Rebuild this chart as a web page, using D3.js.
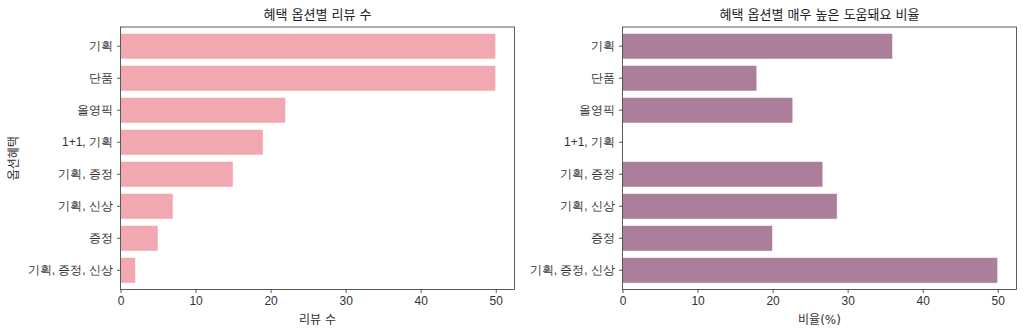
<!DOCTYPE html>
<html>
<head>
<meta charset="utf-8">
<script src="https://cdn.jsdelivr.net/npm/d3@7"></script>
<style>
  body { margin: 0; background: #fff; }
  svg { font-family: "DejaVu Sans", "Noto Sans CJK KR", sans-serif; }
</style>
</head>
<body>
<svg id="chart" width="1024" height="336"></svg>
<script>
const options = ['기획', '단품', '올영픽', '1+1, 기획', '기획, 증정', '기획, 신상', '증정', '기획, 증정, 신상']
const reviewCounts = [50, 50, 22, 19, 15, 7, 5, 2]
const helpfulRatio = [36, 17.9, 22.7, 0, 26.7, 28.6, 20, 50]
const xTicks = [0, 10, 20, 30, 40, 50]

const svg = d3.select('#chart')

function drawPanel(cfg){
    const g = svg.append('g').attr('transform', `translate(${cfg.left},${cfg.top})`)
    const w = cfg.width, h = cfg.height

    const x = d3.scaleLinear().domain([0, 52.5]).range([0, w])
    const y = d3.scaleBand().domain(options).range([0, h]).padding(0.2)

    g.selectAll('rect.bar').data(cfg.values).enter()
        .append('rect')
        .attr('class', 'bar')
        .attr('x', 0)
        .attr('y', (d, i) => y(options[i]))
        .attr('width', d => x(d))
        .attr('height', y.bandwidth())
        .attr('fill', cfg.color)
        .attr('stroke', d => d > 0 ? '#fff' : 'none')
        .attr('stroke-width', 0.6)

    // axes
    const xAxis = d3.axisBottom(x).tickValues(xTicks).tickSize(3.5).tickPadding(3).tickSizeOuter(0)
    const yAxis = d3.axisLeft(y).tickSize(3.5).tickPadding(4).tickSizeOuter(0)

    const xg = g.append('g').attr('transform', `translate(0,${h})`).call(xAxis)
    const yg = g.append('g').call(yAxis)
    for (const a of [xg, yg]){
        a.select('.domain').remove()
        a.selectAll('line').attr('stroke', '#333').attr('stroke-width', 0.8)
        a.selectAll('text').attr('fill', '#333').style('font-size', '12px')
    }

    // frame
    g.append('rect')
        .attr('x', 0).attr('y', 0).attr('width', w).attr('height', h)
        .attr('fill', 'none').attr('stroke', '#333').attr('stroke-width', 0.8)

    g.append('text')
        .attr('x', w / 2).attr('y', -8)
        .attr('text-anchor', 'middle')
        .attr('fill', '#222')
        .style('font-size', '13px')
        .text(cfg.title)

    g.append('text')
        .attr('x', w / 2).attr('y', h + 34)
        .attr('text-anchor', 'middle')
        .attr('fill', '#333')
        .style('font-size', '12px')
        .text(cfg.xlabel)

    if (cfg.ylabel){
        g.append('text')
            .attr('transform', `translate(${-cfg.left + 18},${h / 2}) rotate(-90)`)
            .attr('text-anchor', 'middle')
            .attr('fill', '#333')
            .style('font-size', '12px')
            .text(cfg.ylabel)
    }
}

drawPanel({left: 120.5, top: 27, width: 394, height: 262.5, values: reviewCounts,
    color: '#f2a8b0', title: '혜택 옵션별 리뷰 수', xlabel: '리뷰 수', ylabel: '옵션혜택'})
drawPanel({left: 622.5, top: 27, width: 394, height: 262.5, values: helpfulRatio,
    color: '#ab7f9c', title: '혜택 옵션별 매우 높은 도움돼요 비율', xlabel: '비율(%)'})
</script>
</body>
</html>
